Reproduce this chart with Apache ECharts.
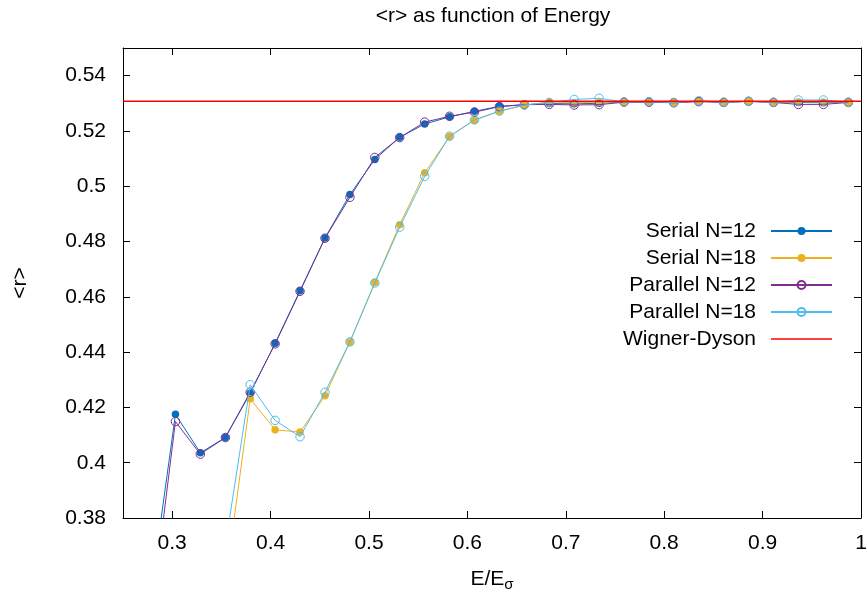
<!DOCTYPE html>
<html>
<head>
<meta charset="utf-8">
<script src="https://cdn.jsdelivr.net/npm/echarts@6/dist/echarts.min.js"></script>
<style>
html,body{margin:0;padding:0;background:#fff;}
#chart{width:866px;height:592px;}
</style>
</head>
<body>
<div id="chart"></div>
<script>
// ---- data ----
const energies = [0.278, 0.3033, 0.3286, 0.354, 0.3793, 0.4046, 0.4299, 0.4553, 0.4806, 0.5059,
  0.5312, 0.5566, 0.5819, 0.6072, 0.6325, 0.6579, 0.6832, 0.7085, 0.7338, 0.7592,
  0.7845, 0.8098, 0.8351, 0.8605, 0.8858, 0.9111, 0.9364, 0.9618, 0.9871];

const serialN12 = [0.352, 0.4175, 0.4036, 0.4091, 0.4251, 0.4432, 0.4622, 0.4813, 0.4970, 0.5097,
  0.5177, 0.5225, 0.5251, 0.5271, 0.5289, 0.5295, 0.5299, 0.5298, 0.5300, 0.5305,
  0.5305, 0.5303, 0.5308, 0.5304, 0.5307, 0.5304, 0.5303, 0.5302, 0.5304];

const serialN18 = [null, null, null, 0.356, 0.4231, 0.4119, 0.4111, 0.4242, 0.4437, 0.4652,
  0.4861, 0.5049, 0.5180, 0.5239, 0.5271, 0.5293, 0.5305, 0.5302, 0.5304, 0.5305,
  0.5305, 0.5303, 0.5307, 0.5304, 0.5307, 0.5304, 0.5305, 0.5305, 0.5304];

const parallelN12 = [0.342, 0.4149, 0.4031, 0.4091, 0.4255, 0.4430, 0.4620, 0.4812, 0.4960, 0.5104,
  0.5176, 0.5232, 0.5253, 0.5268, 0.5288, 0.5295, 0.5296, 0.5294, 0.5295, 0.5304,
  0.5304, 0.5302, 0.5306, 0.5303, 0.5307, 0.5303, 0.5296, 0.5296, 0.5303];

const parallelN18 = [null, null, null, 0.370, 0.4282, 0.4153, 0.4094, 0.4255, 0.4437, 0.4650,
  0.4852, 0.5036, 0.5181, 0.5240, 0.5272, 0.5294, 0.5303, 0.5314, 0.5318, 0.5305,
  0.5306, 0.5303, 0.5309, 0.5304, 0.5307, 0.5304, 0.5312, 0.5312, 0.5304];

const wignerDyson = 0.5307;
const xRange = [0.25, 1.0];
const yRange = [0.38, 0.55];
const xTicks = [0.3, 0.4, 0.5, 0.6, 0.7, 0.8, 0.9, 1.0];
const yTicks = [0.38, 0.40, 0.42, 0.44, 0.46, 0.48, 0.50, 0.52, 0.54];
const seriesNames = ['Serial N=12', 'Serial N=18', 'Parallel N=12', 'Parallel N=18', 'Wigner-Dyson'];

// ---- chart ----
const FONT = '"Liberation Sans", Arial, Helvetica, sans-serif';
const FS = 21;
function pairs(vals) {
  const out = [];
  energies.forEach((x, i) => { if (vals[i] !== null && vals[i] !== undefined) out.push([x, vals[i]]); });
  return out;
}
function fmt(v) { return String(+v.toFixed(2)); }

const chart = echarts.init(document.getElementById('chart'), null, {renderer: 'canvas'});
const axisCommon = {
  axisLine: {show: true, onZero: false, lineStyle: {color: '#000', width: 1}},
  splitLine: {show: false},
};
const option = {
  animation: false,
  backgroundColor: '#fff',
  title: {
    text: '<r> as function of Energy',
    left: 493, top: 6, padding: 0, textAlign: 'center',
    textStyle: {fontFamily: FONT, fontSize: FS, fontWeight: 'normal', color: '#000'}
  },
  grid: {left: 123, right: 5, top: 48, bottom: 74, containLabel: false, outerBoundsMode: 'none'},
  legend: {
    orient: 'vertical', align: 'right',
    right: 33, top: 220, padding: 0,
    itemWidth: 61, itemHeight: 10, itemGap: 5,
    data: seriesNames.slice(0, 4).concat([{name: seriesNames[4], icon: 'path://M0,0L61,0L61,1.4L0,1.4Z'}]),
    symbolKeepAspect: true,
    textStyle: {fontFamily: FONT, fontSize: FS, color: '#000', lineHeight: 22, padding: [0, 10, 0, 0]},
    selectedMode: false
  },
  xAxis: [
    Object.assign({}, axisCommon, {
      type: 'value', min: xRange[0], max: xRange[1], position: 'bottom',
      name: 'E/E{sub|σ}', nameLocation: 'middle', nameGap: 49,
      nameTextStyle: {fontFamily: FONT, fontSize: FS, color: '#000',
        rich: {sub: {fontFamily: FONT, fontSize: 15, color: '#000', verticalAlign: 'bottom', padding: [10, 0, 0, 0]}}},
      axisTick: {show: true, inside: true, length: 7, customValues: xTicks, lineStyle: {color: '#000'}},
      axisLabel: {show: true, customValues: xTicks, formatter: fmt, fontFamily: FONT, fontSize: FS, color: '#000', margin: 15, showMaxLabel: true, hideOverlap: false}
    }),
    Object.assign({}, axisCommon, {
      type: 'value', min: xRange[0], max: xRange[1], position: 'top',
      axisTick: {show: true, inside: true, length: 7, customValues: xTicks, lineStyle: {color: '#000'}},
      axisLabel: {show: false}
    })
  ],
  yAxis: [
    Object.assign({}, axisCommon, {
      type: 'value', min: yRange[0], max: yRange[1], position: 'left',
      name: '<r>', nameLocation: 'middle', nameGap: 92, nameRotate: 90,
      nameTextStyle: {fontFamily: FONT, fontSize: FS, color: '#000'},
      axisTick: {show: true, inside: true, length: 7, customValues: yTicks, lineStyle: {color: '#000'}},
      axisLabel: {show: true, customValues: yTicks, formatter: fmt, fontFamily: FONT, fontSize: FS, color: '#000', margin: 17}
    }),
    Object.assign({}, axisCommon, {
      type: 'value', min: yRange[0], max: yRange[1], position: 'right',
      axisTick: {show: true, inside: true, length: 7, customValues: yTicks, lineStyle: {color: '#000'}},
      axisLabel: {show: false}
    })
  ],
  series: [
    {
      name: seriesNames[0], type: 'line', data: pairs(serialN12),
      symbol: 'circle', symbolSize: 7.5, showAllSymbol: true,
      itemStyle: {color: '#0072bd'}, lineStyle: {color: '#0072bd', width: 1}, z: 2
    },
    {
      name: seriesNames[1], type: 'line', data: pairs(serialN18),
      symbol: 'circle', symbolSize: 7.5, showAllSymbol: true,
      itemStyle: {color: '#edb120'}, lineStyle: {color: '#edb120', width: 1}, z: 3
    },
    {
      name: seriesNames[2], type: 'line', data: pairs(parallelN12),
      symbol: 'circle', symbolSize: 8.5, showAllSymbol: true,
      itemStyle: {color: 'rgba(0,0,0,0)', borderColor: '#7e2f8e', borderWidth: 1}, lineStyle: {color: '#7e2f8e', width: 1}, z: 4
    },
    {
      name: seriesNames[3], type: 'line', data: pairs(parallelN18),
      symbol: 'circle', symbolSize: 8.5, showAllSymbol: true,
      itemStyle: {color: 'rgba(0,0,0,0)', borderColor: '#4dbeee', borderWidth: 1}, lineStyle: {color: '#4dbeee', width: 1}, z: 5
    },
    {
      name: seriesNames[4], type: 'line', data: [[xRange[0], wignerDyson], [xRange[1], wignerDyson]],
      symbol: 'none', itemStyle: {color: '#ff0000'}, lineStyle: {color: '#ff0000', width: 1.5}, z: 6
    }
  ]
};
chart.setOption(option);
</script>
</body>
</html>
